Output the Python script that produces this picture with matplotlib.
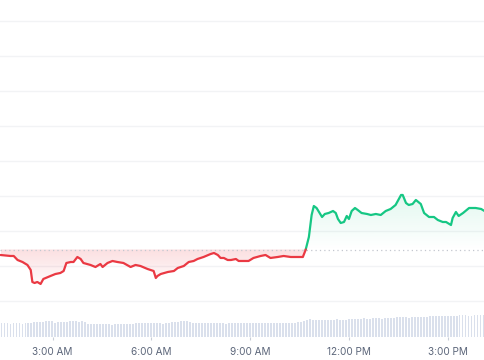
import numpy as np
import matplotlib
matplotlib.use("Agg")
import matplotlib.pyplot as plt
from matplotlib.colors import to_rgb
from matplotlib.patches import PathPatch

# ---- data (minutes since midnight, price) ----
price_minutes = [85, 94, 103, 109, 116, 125, 134, 140, 143, 147, 152, 158, 163, 176, 185, 194, 200,
                 205, 213, 218, 225, 231, 236, 249, 258, 267, 271, 280, 289, 298, 309, 322, 331, 340,
                 353, 364, 368, 371, 377, 390, 401, 408, 419, 428, 437, 444, 455, 468, 474, 481, 486,
                 492, 499, 505, 514, 519, 528, 537, 546, 559, 568, 577, 590, 601, 614, 627, 636, 641,
                 647, 652, 656, 661, 671, 676, 683, 691, 696, 700, 705, 711, 716, 720, 725, 731, 736,
                 743, 753, 760, 769, 778, 787, 796, 805, 815, 818, 824, 829, 836, 842, 851, 857, 866,
                 875, 882, 891, 897, 906, 909, 915, 920, 928, 939, 951, 961, 970]
price_values = [113.14, 113.0, 112.86, 112.86, 111.71, 111.14, 110.29, 108.86, 105.43, 105.14, 105.43,
                104.86, 106.29, 107.14, 107.71, 108.0, 108.57, 110.86, 111.14, 111.14, 112.57, 112.0,
                110.86, 110.29, 109.71, 110.57, 109.71, 110.86, 111.43, 111.14, 110.86, 109.71, 110.29,
                110.0, 109.14, 108.57, 106.57, 107.14, 107.71, 108.29, 108.57, 109.43, 110.0, 111.14,
                111.43, 112.0, 112.57, 113.43, 113.71, 113.14, 112.29, 112.29, 111.71, 111.71, 112.0,
                111.43, 111.43, 111.43, 112.29, 112.86, 113.14, 112.29, 112.57, 112.86, 112.57, 112.57,
                112.57, 114.57, 118.29, 124.57, 127.14, 126.57, 124.0, 124.86, 125.14, 125.71, 125.14,
                123.43, 122.29, 122.57, 124.29, 123.43, 125.71, 126.57, 126.0, 125.14, 124.86, 124.57,
                124.86, 124.57, 125.71, 126.29, 127.43, 130.29, 130.29, 128.0, 127.43, 127.71, 128.86,
                127.71, 125.14, 124.0, 124.0, 123.14, 122.57, 122.57, 121.71, 123.71, 125.43, 124.29,
                125.14, 126.57, 126.57, 126.29, 125.43]
baseline_price = 114.71

volume_values = [14, 14, 14, 13, 14, 14, 14, 13, 14, 14,
                 14, 15, 15, 15, 15, 16, 16,
                 16, 14,
                 15, 15, 15, 15, 16, 16, 16, 15, 16, 15,
                 13, 13, 13, 13, 13, 13, 13, 13, 12, 13, 13, 13, 13, 13, 13,
                 13, 14, 14, 14, 14, 14, 14, 14, 14, 14, 13, 14, 14,
                 15, 15, 15, 16, 16, 16, 15,
                 14, 14, 14, 14, 14, 14, 14, 14, 14, 14, 14, 13, 14, 14, 14, 14, 14, 14, 14, 14,
                 14, 14, 14, 14, 14, 14, 14, 14, 14, 14, 14, 14, 14, 14, 14, 15, 15,
                 16, 17, 18, 17, 17, 17, 17,
                 17, 17, 17, 17, 18, 17, 17, 17, 18, 18,
                 18, 18, 18, 19, 18, 18, 19, 19, 19, 18,
                 19, 19, 19, 19, 20, 20, 20, 20, 19, 20, 20, 20, 20,
                 20, 20, 21, 21, 21, 21, 21, 21, 21, 21, 21, 21, 22, 22, 22, 21, 21, 22, 22, 22, 22]

tick_minutes = [180, 360, 540, 720, 900]
tick_labels = ["3:00 AM", "6:00 AM", "9:00 AM", "12:00 PM", "3:00 PM"]
grid_prices = [100, 110, 120, 130, 140, 150, 160, 170, 180]

GREEN = "#16c784"
RED = "#ea3943"

plt.rcParams['font.family'] = ['Inter', 'DejaVu Sans']

fig = plt.figure(figsize=(4.85, 3.6), dpi=100)
ax = fig.add_axes([0, 23 / 360, 1, 337 / 360])
XMIN, XMAX = 84, 968
YMIN, YMAX = 89.71, 186.0

x = np.asarray(price_minutes, float)
y = np.asarray(price_values, float)
b = baseline_price

# insert baseline crossings so the colours split exactly at the baseline
xs, ys = [x[0]], [y[0]]
for i in range(1, len(x)):
    if (y[i - 1] - b) * (y[i] - b) < 0:
        t = (b - y[i - 1]) / (y[i] - y[i - 1])
        xs.append(x[i - 1] + t * (x[i] - x[i - 1]))
        ys.append(b)
    xs.append(x[i]); ys.append(y[i])
xs = np.array(xs); ys = np.array(ys)

for gp in grid_prices:
    ax.axhline(gp, color="#f2f3f5", lw=1.0, zorder=0)


def gradient_fill(yfill, color, a_base, a_far, up):
    poly = ax.fill_between(xs, yfill, b, facecolor='none', edgecolor='none')
    path = poly.get_paths()[0]
    patch = PathPatch(path, facecolor='none', edgecolor='none', transform=ax.transData)
    ax.add_patch(patch)
    n = 256
    img = np.zeros((n, 1, 4))
    img[:, :, :3] = to_rgb(color)
    if up:
        lo, hi = b, yfill.max()
        img[:, 0, 3] = np.linspace(a_far, a_base, n)  # top row first
    else:
        lo, hi = yfill.min(), b
        img[:, 0, 3] = np.linspace(a_base, a_far, n)  # top row (baseline) first
    im = ax.imshow(img, aspect='auto', extent=[xs.min(), xs.max(), lo, hi],
                   origin='upper', zorder=1, interpolation='bilinear')
    im.set_clip_path(patch)


gradient_fill(np.maximum(ys, b), GREEN, 0.0, 0.12, True)
gradient_fill(np.minimum(ys, b), RED, 0.16, 0.02, False)

ax.axhline(b, color="#c3c7cf", lw=0.9, ls=(0, (1, 2.5)), zorder=2)

ax.plot(xs, np.ma.masked_where(ys < b, ys), color=GREEN, lw=1.6, zorder=3,
        solid_joinstyle='round', solid_capstyle='round')
ax.plot(xs, np.ma.masked_where(ys > b, ys), color=RED, lw=1.6, zorder=3,
        solid_joinstyle='round', solid_capstyle='round')

# volume bars
ax2 = ax.twinx()
vol_x = np.linspace(XMIN + 2.7, XMAX - 2.7, len(volume_values))
ax2.bar(vol_x, volume_values, width=3.4, color="#dae0ec", linewidth=0, zorder=1)
ax2.set_ylim(0, 337)
ax2.set_yticks([])
for s in ax2.spines.values():
    s.set_visible(False)

ax.set_xlim(XMIN, XMAX)
ax2.set_xlim(XMIN, XMAX)
ax.set_ylim(YMIN, YMAX)
ax.set_yticks([])
ax.set_xticks(tick_minutes)
ax.set_xticklabels(tick_labels)
ax.tick_params(axis='x', length=2.5, width=0.8, color="#c9ced8", pad=4.5,
               labelsize=7.2, labelcolor="#5c667a")
ax2.tick_params(axis='x', length=0)
for s in ax.spines.values():
    s.set_visible(False)

fig.savefig("out.png", dpi=100)
